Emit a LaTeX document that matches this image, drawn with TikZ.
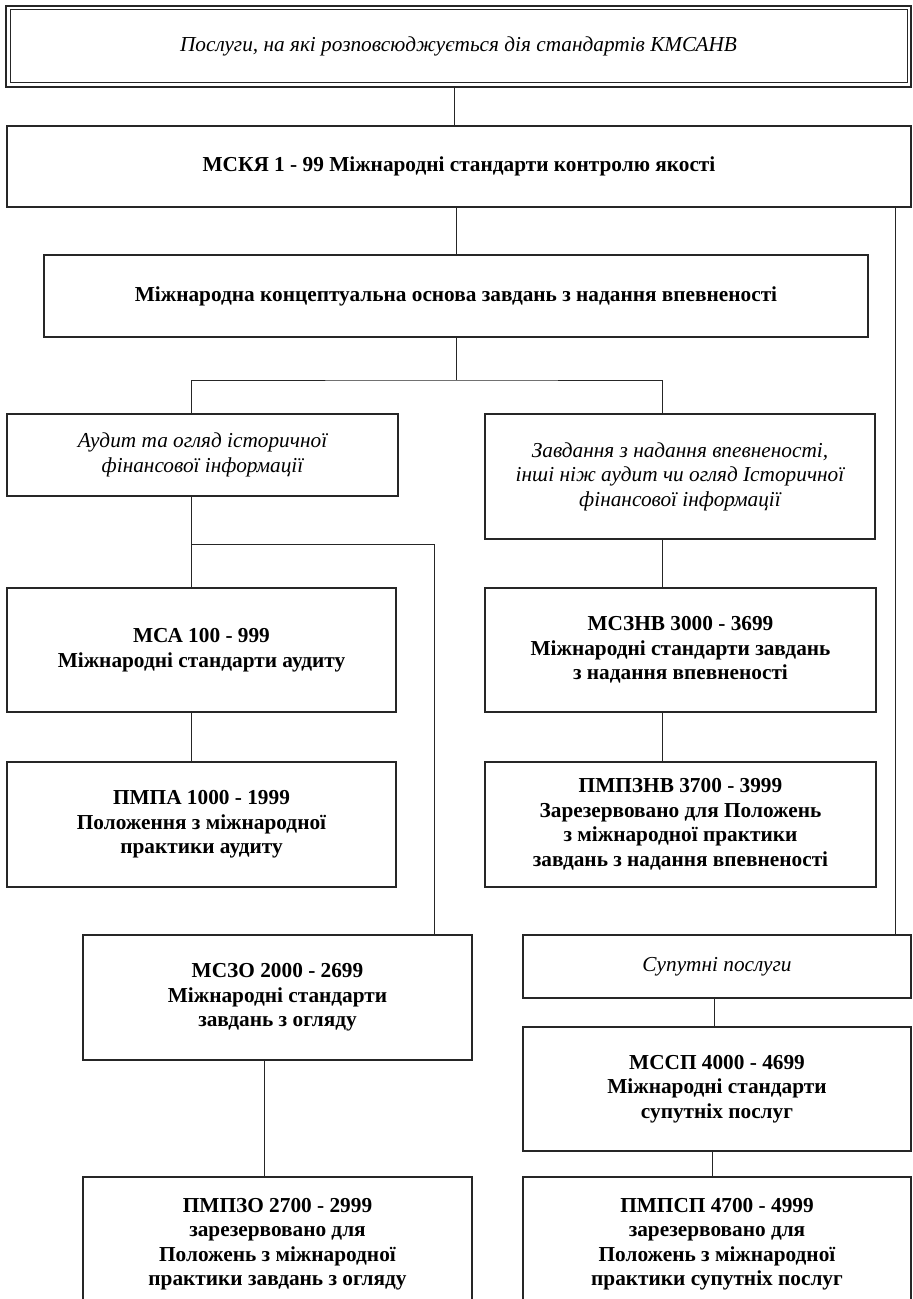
\documentclass[tikz,border=0pt]{standalone}
\usepackage{fontspec}
\setmainfont{Liberation Serif}
\begin{document}
\begin{tikzpicture}[x=1pt,y=-1pt,
  boxbase/.style={draw=black!85, line width=1.2pt, rectangle, inner sep=0pt, align=center, anchor=center},
  bbox/.style={boxbase, font=\fontsize{21.3}{24.5}\selectfont\bfseries},
  ibox/.style={boxbase, font=\fontsize{21.3}{24.5}\selectfont\itshape},
  conn/.style={draw=black!85, line width=1pt}]
\useasboundingbox (0,0) rectangle (913,1299);
\clip (0,0) rectangle (913,1299);
\fill[white] (0,0) rectangle (913,1299);

% top double-framed box
\node[ibox, line width=1.8pt, minimum width=905pt, minimum height=81pt] (top) at (458.5,46.5)
  {Послуги, на які розповсюджується дія стандартів КМСАНВ};
\draw[black!85, line width=0.9pt] ([shift={(5,4)}]top.north west) rectangle ([shift={(-4,-5)}]top.south east);

\node[bbox, minimum width=904pt, minimum height=81pt] (mcky) at (459,166.5)
  {МСКЯ 1 - 99 Міжнародні стандарти контролю якості};
\node[bbox, minimum width=824pt, minimum height=82pt] (conc) at (456,296)
  {Міжнародна концептуальна основа завдань з надання впевненості};

\node[ibox, minimum width=391pt, minimum height=82pt] (audit) at (202.5,455)
  {Аудит та огляд історичної\\фінансової інформації};
\node[ibox, minimum width=390pt, minimum height=125pt] (zavd) at (680,476.5)
  {Завдання з надання впевненості,\\інші ніж аудит чи огляд Історичної\\фінансової інформації};

\node[bbox, minimum width=389pt, minimum height=124pt] (msa) at (201.5,650)
  {МСА 100 - 999\\Міжнародні стандарти аудиту};
\node[bbox, minimum width=391pt, minimum height=124pt] (mszn) at (680.5,650)
  {МСЗНВ 3000 - 3699\\Міжнародні стандарти завдань\\з надання впевненості};

\node[bbox, minimum width=389pt, minimum height=125pt] (pmpa) at (201.5,824.5)
  {ПМПА 1000 - 1999\\Положення з міжнародної\\практики аудиту};
\node[bbox, minimum width=391pt, minimum height=125pt] (pmpzn) at (680.5,824.5)
  {ПМПЗНВ 3700 - 3999\\Зарезервовано для Положень\\з міжнародної практики\\завдань з надання впевненості};

\node[bbox, minimum width=389pt, minimum height=125pt] (mszo) at (277.5,997.5)
  {МСЗО 2000 - 2699\\Міжнародні стандарти\\завдань з огляду};
\node[ibox, minimum width=388pt, minimum height=63pt] (sup) at (717,966.5)
  {Супутні послуги};
\node[bbox, minimum width=388pt, minimum height=124pt] (mssp) at (717,1089)
  {МССП 4000 - 4699\\Міжнародні стандарти\\супутніх послуг};

\node[bbox, minimum width=389pt, minimum height=134pt] (pmpzo) at (277.5,1244)
  {ПМПЗО 2700 - 2999\\зарезервовано для\\Положень з міжнародної\\практики завдань з огляду};
\node[bbox, minimum width=388pt, minimum height=134pt] (pmpsp) at (717,1244)
  {ПМПСП 4700 - 4999\\зарезервовано для\\Положень з міжнародної\\практики супутніх послуг};

% connectors
\coordinate (branch) at (456,380);
\coordinate (split) at (191,544);
\draw[conn] ([xshift=-4pt]top.south) -- ([xshift=-4pt]top.south |- mcky.north);
\draw[conn] ([xshift=-3pt]mcky.south) -- ([xshift=-3pt]mcky.south |- conc.north);
\draw[conn] ([xshift=-16pt]mcky.south east) -- ([xshift=-16pt]mcky.south east |- sup.north);
\draw[conn] (conc.south) -- (branch);
\draw[conn] ([xshift=-11.5pt]audit.north) |- (branch) -| ([xshift=-18pt]zavd.north);
\draw[conn] ([xshift=-11.5pt]audit.south) -- ([xshift=-11.5pt]audit.south |- msa.north);
\draw[conn] (split) -| ([xshift=-38pt]mszo.north east);
\draw[conn] ([xshift=-10.5pt]msa.south) -- ([xshift=-10.5pt]msa.south |- pmpa.north);
\draw[conn] ([xshift=-18pt]zavd.south) -- ([xshift=-18pt]zavd.south |- mszn.north);
\draw[conn] ([xshift=-18.5pt]mszn.south) -- ([xshift=-18.5pt]mszn.south |- pmpzn.north);
\draw[conn] ([xshift=-13.5pt]mszo.south) -- ([xshift=-13.5pt]mszo.south |- pmpzo.north);
\draw[conn] ([xshift=-3pt]sup.south) -- ([xshift=-3pt]sup.south |- mssp.north);
\draw[conn] ([xshift=-5pt]mssp.south) -- ([xshift=-5pt]mssp.south |- pmpsp.north);
\end{tikzpicture}
\end{document}
